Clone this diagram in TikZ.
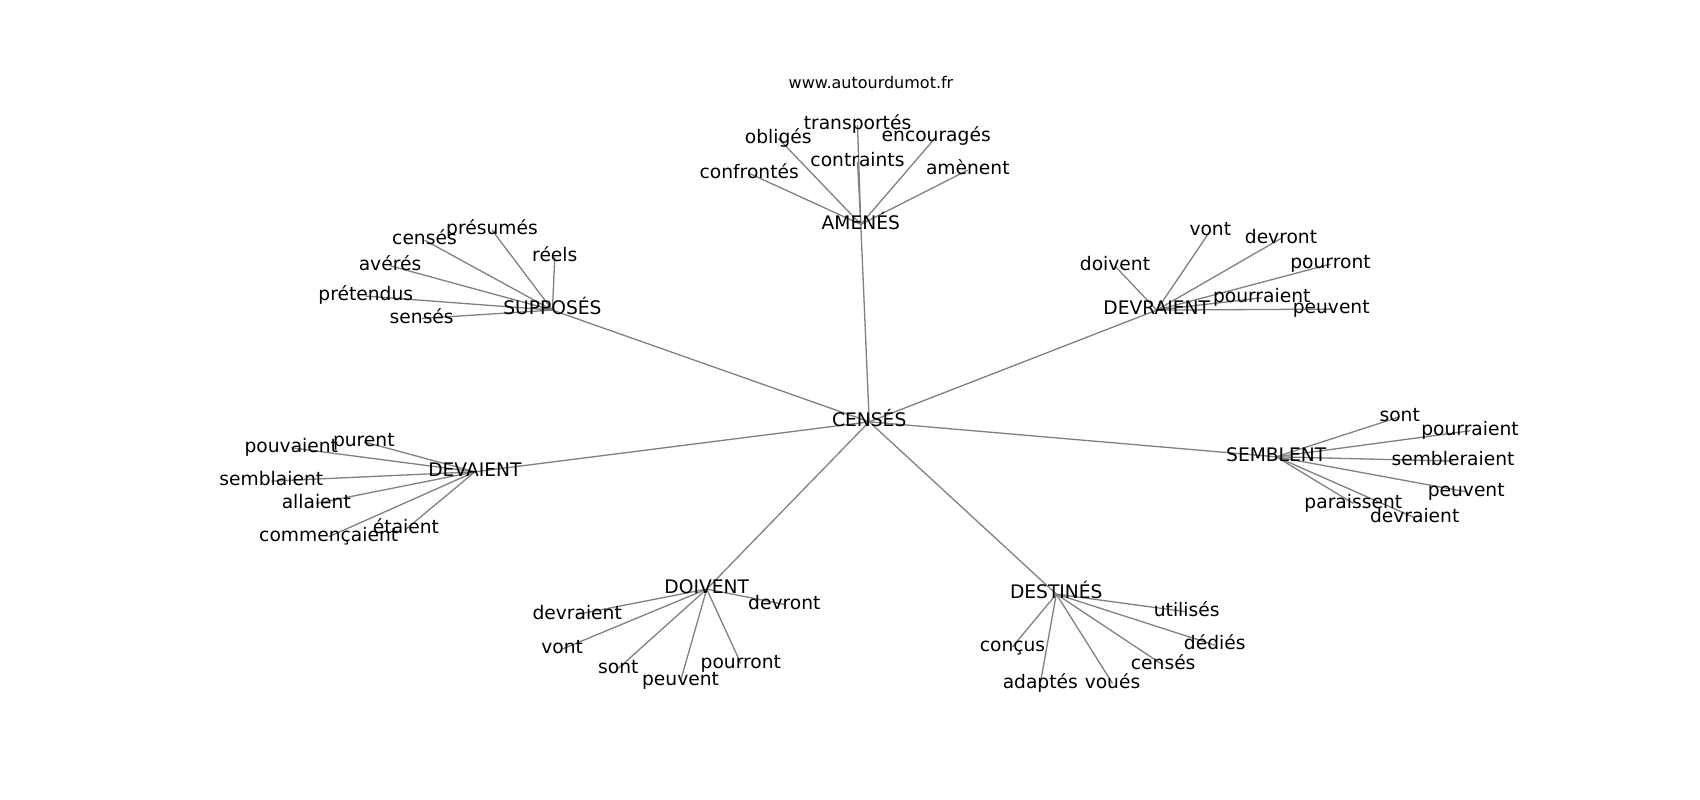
\documentclass[tikz,border=0pt]{standalone}
\usepackage{fontspec}
\setmainfont{DejaVu Sans}
\usetikzlibrary{backgrounds}
\tikzset{
  lbl/.style={inner sep=0pt, outer sep=0pt, text height=14.19pt, text depth=4.41pt, anchor=center, font=\fontsize{18.67pt}{20pt}\selectfont},
  ttl/.style={inner sep=0pt, anchor=base, font=\fontsize{16pt}{18pt}\selectfont},
  edge/.style={draw={rgb,255:red,128;green,128;blue,128}, line width=1.3pt}
}
\begin{document}
\begin{tikzpicture}[x=1pt,y=-1pt]
\useasboundingbox (0,0) rectangle (1700,800);
\node[ttl] (title) at (871,88.3) {www.autourdumot.fr};
% center
\node[lbl] (c) at (869.2,421.8) {CENSÉS};
% AMENES
\node[lbl] (a) at (860.8,224.4) {AMENÉS};
\node[lbl] (a1) at (857.5,125.1) {transportés};
\node[lbl] (a2) at (778.3,138.4) {obligés};
\node[lbl] (a3) at (936.2,136.8) {encouragés};
\node[lbl] (a4) at (857.5,161.8) {contraints};
\node[lbl] (a5) at (749.2,173.4) {confrontés};
\node[lbl] (a6) at (967.8,170.1) {amènent};
% SUPPOSES
\node[lbl] (s) at (552.4,310.1) {SUPPOSÉS};
\node[lbl] (s1) at (492,230.1) {présumés};
\node[lbl] (s2) at (424.5,240.1) {censés};
\node[lbl] (s3) at (554.8,256.8) {réels};
\node[lbl] (s4) at (390,265.8) {avérés};
\node[lbl] (s5) at (365.8,296.1) {prétendus};
\node[lbl] (s6) at (421.7,318.4) {sensés};
% DEVRAIENT
\node[lbl] (d) at (1156.7,310.1) {DEVRAIENT};
\node[lbl] (d1) at (1210.3,230.8) {vont};
\node[lbl] (d2) at (1281,238.4) {devront};
\node[lbl] (d3) at (1115,266.1) {doivent};
\node[lbl] (d4) at (1330.5,264.1) {pourront};
\node[lbl] (d5) at (1261.7,297.8) {pourraient};
\node[lbl] (d6) at (1331.2,309.1) {peuvent};
% DEVAIENT
\node[lbl] (v) at (474.9,471.8) {DEVAIENT};
\node[lbl] (v1) at (363.8,441.8) {purent};
\node[lbl] (v2) at (291.3,447.8) {pouvaient};
\node[lbl] (v3) at (271.3,481.1) {semblaient};
\node[lbl] (v4) at (316.3,503.4) {allaient};
\node[lbl] (v5) at (406,529.1) {étaient};
\node[lbl] (v6) at (328.7,536.8) {commençaient};
% SEMBLENT
\node[lbl] (m) at (1276.2,456.8) {SEMBLENT};
\node[lbl] (m1) at (1399.7,416.8) {sont};
\node[lbl] (m2) at (1470,430.8) {pourraient};
\node[lbl] (m3) at (1453,461.1) {sembleraient};
\node[lbl] (m4) at (1466.2,491.8) {peuvent};
\node[lbl] (m5) at (1353.3,503.4) {paraissent};
\node[lbl] (m6) at (1414.7,517.8) {devraient};
% DOIVENT
\node[lbl] (o) at (706.7,589.1) {DOIVENT};
\node[lbl] (o1) at (784.3,604.4) {devront};
\node[lbl] (o2) at (577.2,614.4) {devraient};
\node[lbl] (o3) at (562.2,649.1) {vont};
\node[lbl] (o4) at (618.3,668.4) {sont};
\node[lbl] (o5) at (740.8,663.4) {pourront};
\node[lbl] (o6) at (680.5,681.1) {peuvent};
% DESTINES
\node[lbl] (t) at (1056.3,594.1) {DESTINÉS};
\node[lbl] (t1) at (1186.7,611.8) {utilisés};
\node[lbl] (t2) at (1214.7,645.1) {dédiés};
\node[lbl] (t3) at (1012.5,646.8) {conçus};
\node[lbl] (t4) at (1163.2,665.1) {censés};
\node[lbl] (t5) at (1040.3,683.4) {adaptés};
\node[lbl] (t6) at (1112.5,683.4) {voués};
\begin{pgfonlayer}{background}
\foreach \h in {a,s,d,v,m,o,t}{
  \draw[edge] (c.center) -- (\h.center);
  \foreach \i in {1,...,6}{
    \draw[edge] (\h.center) -- (\h\i.center);
  }
}
\end{pgfonlayer}
\end{tikzpicture}
\end{document}
